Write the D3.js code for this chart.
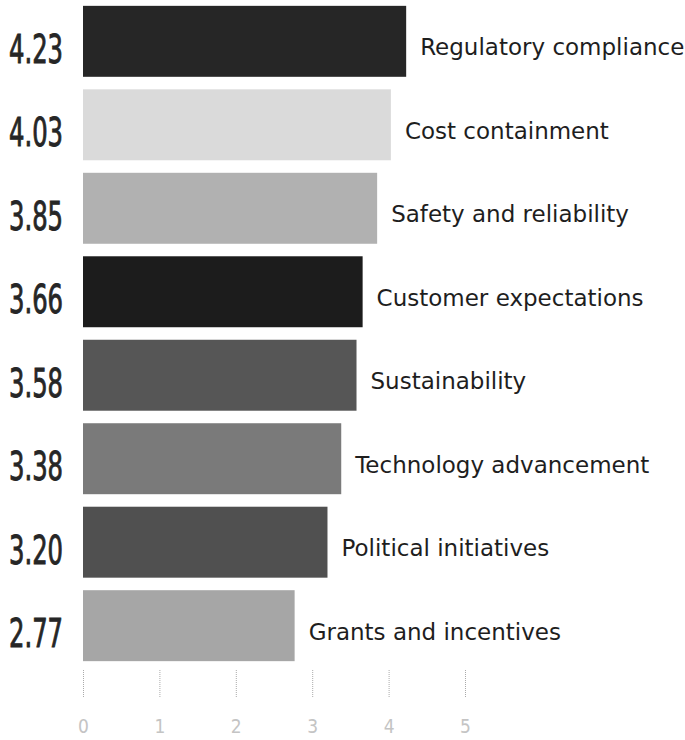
<!DOCTYPE html>
<html>
<head>
<meta charset="utf-8">
<script src="https://cdn.jsdelivr.net/npm/d3@7"></script>
<style>
  body { margin: 0; background: #fff; }
  svg { display: block; }
</style>
</head>
<body>
<div id="chart"></div>
<script>
// data
const categories = ["Regulatory compliance", "Cost containment", "Safety and reliability",
  "Customer expectations", "Sustainability", "Technology advancement",
  "Political initiatives", "Grants and incentives"];
const scores = [4.23, 4.03, 3.85, 3.66, 3.58, 3.38, 3.20, 2.77];
const barShades = ["#262626", "#dadada", "#b1b1b1", "#1c1c1c", "#565656", "#7a7a7a", "#505050", "#a6a6a6"];
const tickValues = [0, 1, 2, 3, 4, 5];

const width = 685;
const height = 740;

const svg = d3.select("#chart")
    .append("svg")
    .attr("width", width)
    .attr("height", height);

const xScale = d3.scaleLinear()
    .domain([0, 5])
    .range([83, 465]);

const yScale = d3.scaleBand()
    .domain(categories)
    .range([0, 667])
    .paddingInner(0.15)
    .paddingOuter(0.07);

// bars
svg.selectAll("rect.bar")
    .data(categories)
    .enter()
    .append("rect")
    .attr("class", "bar")
    .attr("x", xScale(0))
    .attr("y", d => yScale(d))
    .attr("width", (d, i) => xScale(scores[i]) - xScale(0))
    .attr("height", yScale.bandwidth())
    .attr("fill", (d, i) => barShades[i]);

// value labels on the left
svg.selectAll("text.value")
    .data(categories)
    .enter()
    .append("text")
    .attr("class", "value")
    .attr("x", 63)
    .attr("y", d => yScale(d) + yScale.bandwidth() / 2 + 21.5)
    .attr("text-anchor", "end")
    .attr("font-family", "'Liberation Sans Narrow', 'DejaVu Sans Condensed', sans-serif")
    .attr("font-size", 39)
    .attr("fill", "#262626")
    .attr("stroke", "#262626")
    .attr("stroke-width", 0.9)
    .attr("textLength", 54)
    .attr("lengthAdjust", "spacingAndGlyphs")
    .text((d, i) => scores[i].toFixed(2));

// category labels after the bars
svg.selectAll("text.label")
    .data(categories)
    .enter()
    .append("text")
    .attr("class", "label")
    .attr("x", (d, i) => xScale(scores[i]) + 14)
    .attr("y", d => yScale(d) + yScale.bandwidth() / 2 + 14)
    .attr("font-family", "'DejaVu Sans', sans-serif")
    .attr("font-size", 23)
    .attr("fill", "#1e1e1e")
    .text(d => d);

// bottom axis: faint ticks and numbers
const axis = svg.append("g")
    .attr("transform", "translate(0,670)")
    .call(d3.axisBottom(xScale).tickValues(tickValues).tickFormat(d3.format("d"))
        .tickSize(27).tickPadding(23));
axis.select(".domain").remove();
axis.selectAll(".tick line")
    .attr("stroke", "#aaa")
    .attr("stroke-dasharray", "1,1");
axis.selectAll(".tick text")
    .attr("fill", "#c4c4c4")
    .attr("font-family", "'Liberation Sans Narrow', 'DejaVu Sans Condensed', sans-serif")
    .attr("font-size", 19);
</script>
</body>
</html>
